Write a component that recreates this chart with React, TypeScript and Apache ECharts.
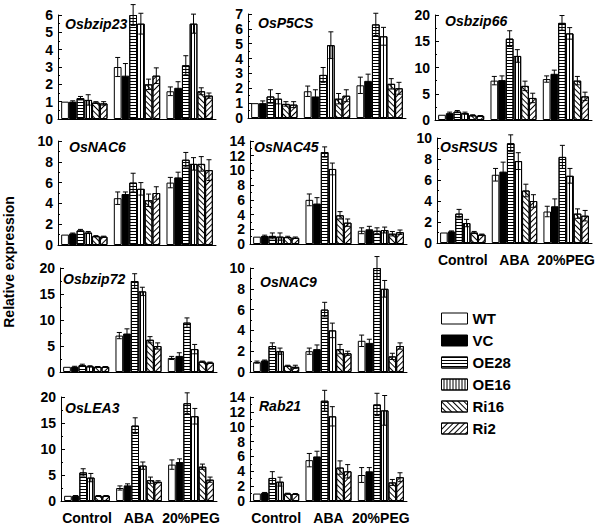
import React, { useEffect, useRef } from 'react';
import * as echarts from 'echarts';

const categories = ['Control', 'ABA', '20%PEG'];
const lines = ['WT', 'VC', 'OE28', 'OE16', 'Ri16', 'Ri2'];
const genes = ['Osbzip23', 'OsP5CS', 'Osbzip66', 'OsNAC6', 'OsNAC45', 'OsRSUS', 'Osbzip72', 'OsNAC9', 'OsLEA3', 'Rab21'];
const yMax = [6, 7, 20, 10, 14, 10, 20, 10, 20, 14];
const yStep = [1, 1, 5, 2, 2, 2, 5, 2, 5, 2];

// means[line][condition], errs[line][condition]
const osbzip23Mean = [[1.0, 3.0, 1.6], [1.0, 2.5, 1.8], [1.2, 6.0, 3.1], [1.1, 5.5, 5.5], [0.95, 2.0, 1.6], [0.9, 2.5, 1.35]];
const osbzip23Err = [[0, 0.55, 0.25], [0.05, 0.7, 0.35], [0.1, 0.6, 0.55], [0.3, 0.6, 0.55], [0.05, 0.3, 0.2], [0.1, 0.45, 0.15]];

const osP5CSMean = [[1.0, 1.8, 2.2], [1.0, 1.45, 2.5], [1.45, 2.9, 6.3], [1.3, 4.9, 5.5], [0.95, 1.3, 2.3], [0.9, 1.5, 2.0]];
const osP5CSErr = [[0, 0.35, 0.55], [0.15, 0.45, 0.45], [0.45, 0.5, 0.75], [0.35, 0.9, 0.6], [0.15, 0.35, 0.35], [0.2, 0.4, 0.4]];

const osbzip66Mean = [[1.0, 7.5, 7.8], [1.3, 7.6, 8.8], [1.6, 15.5, 18.5], [1.3, 12.2, 16.5], [0.9, 6.5, 7.5], [0.8, 4.2, 4.5]];
const osbzip66Err = [[0, 0.8, 0.6], [0.2, 0.8, 0.7], [0.2, 1.5, 1.4], [0.2, 1.2, 1.1], [0.1, 0.9, 0.8], [0.05, 0.9, 0.8]];

const osNAC6Mean = [[1.0, 4.5, 6.0], [1.1, 4.9, 6.5], [1.4, 6.0, 8.2], [1.2, 5.4, 7.8], [0.85, 4.3, 7.8], [0.8, 5.0, 7.2]];
const osNAC6Err = [[0, 0.6, 0.5], [0.05, 0.2, 0.5], [0.1, 0.9, 0.7], [0.1, 0.6, 0.6], [0.05, 0.6, 0.7], [0.05, 0.6, 1.0]];

const osNAC45Mean = [[1.0, 6.0, 1.8], [1.1, 5.5, 2.0], [1.1, 12.5, 1.8], [1.0, 10.2, 1.9], [0.95, 3.9, 1.4], [0.85, 2.9, 1.6]];
const osNAC45Err = [[0, 0.8, 0.4], [0.1, 0.8, 0.4], [0.4, 0.7, 0.4], [0.5, 0.8, 0.4], [0.1, 0.5, 0.3], [0.1, 0.5, 0.3]];

const osRSUSMean = [[1.0, 6.5, 3.0], [1.1, 6.8, 3.5], [2.8, 9.5, 8.2], [1.9, 7.8, 6.4], [1.0, 5.0, 2.8], [0.8, 4.0, 2.6]];
const osRSUSErr = [[0, 0.6, 0.5], [0.05, 0.9, 0.7], [0.4, 0.8, 1.1], [0.35, 0.8, 0.7], [0.1, 0.6, 0.45], [0.05, 0.6, 0.5]];

const osbzip72Mean = [[1.0, 7.0, 2.7], [1.0, 7.4, 3.1], [1.3, 17.5, 9.5], [1.1, 15.5, 4.4], [1.0, 6.2, 2.0], [1.0, 5.0, 1.8]];
const osbzip72Err = [[0, 0.6, 0.3], [0.1, 0.9, 0.6], [0.2, 1.4, 0.9], [0.1, 0.8, 0.9], [0.05, 0.6, 0.1], [0.05, 0.6, 0.1]];

const osNAC9Mean = [[0.95, 2.0, 3.0], [1.1, 2.2, 2.8], [2.5, 6.0, 10.0], [2.0, 4.0, 8.0], [0.6, 2.2, 1.5], [0.5, 1.8, 2.5]];
const osNAC9Err = [[0.1, 0.3, 0.55], [0.05, 0.4, 0.35], [0.3, 0.7, 1.1], [0.3, 0.7, 0.8], [0.05, 0.45, 0.3], [0.15, 0.2, 0.3]];

const osLEA3Mean = [[1.0, 2.5, 7.0], [1.0, 3.0, 7.5], [5.5, 14.5, 18.8], [4.5, 6.8, 16.3], [1.0, 4.0, 6.6], [1.0, 3.7, 4.1]];
const osLEA3Err = [[0, 0.4, 0.9], [0.05, 0.3, 0.6], [0.7, 1.5, 2.0], [0.8, 0.7, 1.5], [0.05, 0.6, 0.5], [0.05, 0.2, 0.5]];

const rab21Mean = [[1.0, 5.5, 3.5], [1.1, 6.0, 4.0], [3.1, 13.5, 13.0], [2.6, 11.4, 12.2], [1.0, 4.5, 2.5], [0.95, 4.0, 3.2]];
const rab21Err = [[0, 0.9, 1.0], [0.05, 0.7, 0.5], [0.85, 1.4, 1.5], [0.6, 1.3, 2.0], [0.05, 0.9, 0.4], [0.05, 0.9, 0.6]];

const allMeans = [osbzip23Mean, osP5CSMean, osbzip66Mean, osNAC6Mean, osNAC45Mean, osRSUSMean, osbzip72Mean, osNAC9Mean, osLEA3Mean, rab21Mean];
const allErrs = [osbzip23Err, osP5CSErr, osbzip66Err, osNAC6Err, osNAC45Err, osRSUSErr, osbzip72Err, osNAC9Err, osLEA3Err, rab21Err];

// layout (positions only)
const gridBoxes = [
  { left: 58, top: 15, width: 158, height: 104 },
  { left: 248, top: 14, width: 158, height: 104 },
  { left: 435, top: 15, width: 157, height: 105 },
  { left: 58, top: 141, width: 158, height: 104 },
  { left: 250, top: 141, width: 157, height: 103 },
  { left: 437, top: 138, width: 155, height: 105 },
  { left: 60, top: 268, width: 157, height: 104 },
  { left: 250, top: 268, width: 157, height: 104 },
  { left: 61, top: 397, width: 156, height: 105 },
  { left: 250, top: 397, width: 157, height: 105 },
];
const titlePos = [
  [65, 17], [258, 16], [445, 14], [69, 140], [254, 140], [440, 140], [63, 272], [260, 275], [65, 401], [259, 399],
];
const showXLabels = [false, false, false, false, false, true, false, false, true, true];

const FONT = 'Liberation Sans, Arial, sans-serif';
const GAP = 0.12;

const decals: any[] = [
  null,
  null,
  { symbol: 'rect', symbolSize: 1, dashArrayX: [1, 0], dashArrayY: [1, 2], rotation: 0, color: '#000' },
  { symbol: 'rect', symbolSize: 1, dashArrayX: [1, 0], dashArrayY: [1, 2], rotation: Math.PI / 2, color: '#000' },
  { symbol: 'rect', symbolSize: 1, dashArrayX: [1, 0], dashArrayY: [1, 3], rotation: Math.PI / 4, color: '#000' },
  { symbol: 'rect', symbolSize: 1, dashArrayX: [1, 0], dashArrayY: [1, 3], rotation: -Math.PI / 4, color: '#000' },
];

function buildOption() {
  const grid: any[] = [];
  const xAxis: any[] = [];
  const yAxis: any[] = [];
  const series: any[] = [];
  const title: any[] = [];

  genes.forEach((g, p) => {
    grid.push({ ...gridBoxes[p], containLabel: false });
    xAxis.push({
      type: 'category',
      gridIndex: p,
      data: categories,
      axisTick: { show: false },
      axisLine: { lineStyle: { color: '#000', width: 1 } },
      axisLabel: {
        show: showXLabels[p],
        interval: 0,
        hideOverlap: false,
        color: '#000',
        fontFamily: FONT,
        fontWeight: 'bold',
        fontSize: 14,
        margin: 10,
      },
    });
    yAxis.push({
      type: 'value',
      gridIndex: p,
      min: 0,
      max: yMax[p],
      interval: yStep[p],
      axisLine: { show: true, lineStyle: { color: '#000', width: 1 } },
      axisTick: { show: true, inside: true, length: 4, lineStyle: { color: '#000' } },
      minorTick: { show: true, splitNumber: 2, length: 2, lineStyle: { color: '#000' } },
      splitLine: { show: false },
      axisLabel: {
        color: '#000',
        fontFamily: FONT,
        fontWeight: 'bold',
        fontSize: 14,
        lineHeight: 14,
        margin: 5,
        showMinLabel: true,
        showMaxLabel: true,
        hideOverlap: false,
      },
    });
    title.push({
      text: g,
      left: titlePos[p][0],
      top: titlePos[p][1],
      padding: 0,
      textStyle: { fontFamily: FONT, fontStyle: 'italic', fontWeight: 'bold', fontSize: 14, color: '#000' },
    });
    const means = allMeans[p];
    const errs = allErrs[p];
    lines.forEach((ln, s) => {
      series.push({
        type: 'bar',
        name: ln,
        xAxisIndex: p,
        yAxisIndex: p,
        data: means[s],
        barGap: '0%',
        barCategoryGap: GAP * 100 + '%',
        silent: true,
        itemStyle: {
          color: s === 1 ? '#000' : '#fff',
          borderColor: '#000',
          borderWidth: 1,
          ...(decals[s] ? { decal: decals[s] } : {}),
        },
      });
    });
    const errData: any[] = [];
    lines.forEach((ln, s) => {
      categories.forEach((c, ci) => {
        if (errs[s][ci] > 0) errData.push([ci, means[s][ci], errs[s][ci], s]);
      });
    });
    series.push({
      type: 'custom',
      name: 'err' + p,
      xAxisIndex: p,
      yAxisIndex: p,
      z: 5,
      silent: true,
      clip: false,
      encode: { x: 0, y: 1 },
      data: errData,
      renderItem: (params: any, api: any) => {
        const ci = api.value(0);
        const v = api.value(1);
        const e = api.value(2);
        const s = api.value(3);
        const catW = api.size([1, 0])[0];
        const bw = (catW * (1 - GAP)) / 6;
        const x = api.coord([ci, v])[0] + (s - 2.5) * bw;
        const yT = api.coord([ci, v + e])[1];
        const yB = api.coord([ci, Math.max(v - e, 0)])[1];
        const cap = 2.5;
        const st = { stroke: '#000', lineWidth: 1 };
        return {
          type: 'group',
          children: [
            { type: 'line', shape: { x1: x, y1: yT, x2: x, y2: yB }, style: st },
            { type: 'line', shape: { x1: x - cap, y1: yT, x2: x + cap, y2: yT }, style: st },
            { type: 'line', shape: { x1: x - cap, y1: yB, x2: x + cap, y2: yB }, style: st },
          ],
        };
      },
    });
  });

  return {
    animation: false,
    backgroundColor: '#fff',
    title,
    grid,
    xAxis,
    yAxis,
    series,
    legend: {
      data: lines,
      orient: 'vertical',
      left: 441,
      top: 311,
      itemWidth: 26,
      itemHeight: 11,
      itemGap: 7,
      icon: 'rect',
      selectedMode: false,
      padding: 0,
      itemStyle: { borderColor: '#000', borderWidth: 1 },
      textStyle: { fontFamily: FONT, fontWeight: 'bold', fontSize: 15, color: '#000' },
    },
    graphic: [
      {
        type: 'text',
        x: 9,
        y: 262,
        rotation: Math.PI / 2,
        style: {
          text: 'Relative expression',
          font: 'bold 14px ' + FONT,
          fill: '#000',
          align: 'center',
          verticalAlign: 'middle',
          textAlign: 'center',
          textVerticalAlign: 'middle',
        },
      },
    ],
  };
}

export default function App() {
  const ref = useRef<HTMLDivElement>(null);
  useEffect(() => {
    if (!ref.current) return;
    const chart = echarts.init(ref.current, undefined, { renderer: 'svg' });
    chart.setOption(buildOption() as any);
    return () => chart.dispose();
  }, []);
  return (
    <div
      ref={ref}
      style={{ position: 'absolute', left: 0, top: 0, width: 600, height: 525, background: '#fff' }}
    />
  );
}
